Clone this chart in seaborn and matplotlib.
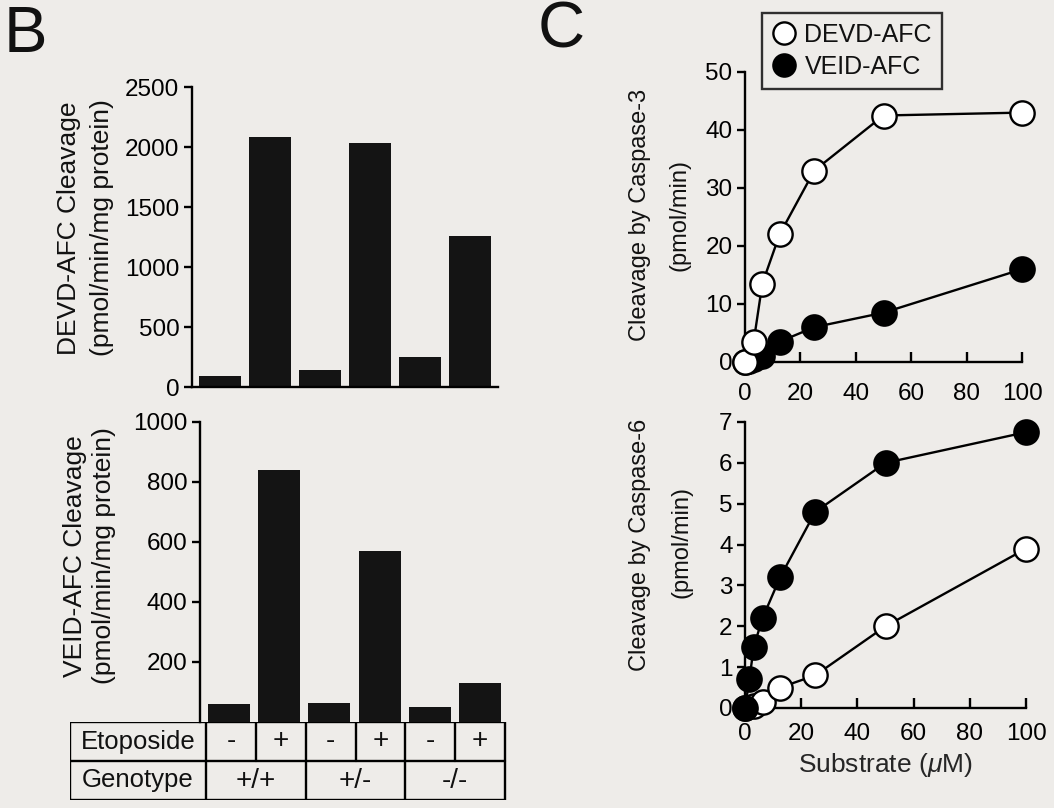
import matplotlib
matplotlib.use('Agg')
import matplotlib.pyplot as plt
from matplotlib.lines import Line2D
import seaborn as sns

# ---------------- data ----------------
conditions = ['+/+ -', '+/+ +', '+/- -', '+/- +', '-/- -', '-/- +']
etoposide = ['-', '+', '-', '+', '-', '+']
genotypes = ['+/+', '+/-', '-/-']
devd_cleavage = [90, 2080, 140, 2030, 250, 1260]
veid_cleavage = [60, 840, 65, 570, 50, 130]

substrate_devd = [0, 3.125, 6.25, 12.5, 25, 50, 100]
substrate_veid = [0, 1.5625, 3.125, 6.25, 12.5, 25, 50, 100]
casp3_devd = [0, 3.5, 13.5, 22, 33, 42.5, 43]
casp3_veid = [0, 0.2, 0.5, 1.0, 3.5, 6.0, 8.5, 16]
casp6_devd = [0, 0.05, 0.15, 0.5, 0.8, 2.0, 3.9]
casp6_veid = [0, 0.7, 1.5, 2.2, 3.2, 4.8, 6.0, 6.75]

# ---------------- style ----------------
sns.set_style('ticks')
BG = '#eeece9'
plt.rcParams['font.family'] = ['Liberation Sans', 'DejaVu Sans']
plt.rcParams['mathtext.fontset'] = 'custom'
plt.rcParams['mathtext.it'] = 'Liberation Sans:italic'
plt.rcParams['mathtext.rm'] = 'Liberation Sans'
plt.rcParams['axes.linewidth'] = 1.7
plt.rcParams['xtick.major.width'] = 1.7
plt.rcParams['ytick.major.width'] = 1.7
plt.rcParams['axes.edgecolor'] = 'black'
plt.rcParams['xtick.color'] = 'black'
plt.rcParams['ytick.color'] = 'black'
plt.rcParams['text.color'] = '#111111'

W, H = 1054, 808
fig = plt.figure(figsize=(W / 100, H / 100), dpi=100, facecolor=BG)


def box(x0, y0, x1, y1):
    """pixel box (top-left origin) -> figure fraction rect"""
    return [x0 / W, 1 - y1 / H, (x1 - x0) / W, (y1 - y0) / H]


BAR = '#141414'

# ---------------- panel B top ----------------
axb1 = fig.add_axes(box(192, 87, 498, 387))
axb1.set_facecolor('none')
sns.barplot(x=conditions, y=devd_cleavage, order=conditions, color=BAR,
            saturation=1, width=0.84, linewidth=0, ax=axb1)
axb1.set_xlim(-0.56, 5.56)
axb1.set_ylim(0, 2500)
axb1.set_yticks([0, 500, 1000, 1500, 2000, 2500])
axb1.set_xticks([])
axb1.set_xlabel('')
axb1.set_ylabel('')
axb1.tick_params(axis='y', labelsize=17.5, length=6, direction='out', pad=3)
sns.despine(ax=axb1)
fig.text(69 / W, 1 - 228 / H, 'DEVD-AFC Cleavage', rotation=90,
         ha='center', va='center', fontsize=19)
fig.text(102 / W, 1 - 228 / H, '(pmol/min/mg protein)', rotation=90,
         ha='center', va='center', fontsize=19)

# ---------------- panel B bottom ----------------
axb2 = fig.add_axes(box(200, 422, 507, 722))
axb2.set_facecolor('none')
sns.barplot(x=conditions, y=veid_cleavage, order=conditions, color=BAR,
            saturation=1, width=0.84, linewidth=0, ax=axb2)
axb2.set_xlim(-0.58, 5.54)
axb2.set_ylim(0, 1000)
axb2.set_yticks([200, 400, 600, 800, 1000])
axb2.set_xticks([])
axb2.set_xlabel('')
axb2.set_ylabel('')
axb2.tick_params(axis='y', labelsize=17.5, length=6, direction='out', pad=3)
sns.despine(ax=axb2, bottom=True)
fig.text(75 / W, 1 - 556 / H, 'VEID-AFC Cleavage', rotation=90,
         ha='center', va='center', fontsize=19)
fig.text(104 / W, 1 - 556 / H, '(pmol/min/mg protein)', rotation=90,
         ha='center', va='center', fontsize=19)

# table under the bars
axt = fig.add_axes(box(70, 722, 507, 800))
axt.set_facecolor('none')
left = -0.5 - (207 - 70) / 50.2
axt.set_xlim(left, 5.54)
axt.set_ylim(0, 2)
axt.axis('off')
lw = 1.7
n = len(conditions)
axt.plot([left, 5.5, 5.5, left, left], [0, 0, 2, 2, 0], color='black', lw=lw)
axt.plot([left, 5.5], [1, 1], color='black', lw=lw)
axt.plot([-0.5, -0.5], [0, 2], color='black', lw=lw)
for i in range(1, n):
    axt.plot([i - 0.5, i - 0.5], [1, 2], color='black', lw=lw)
for g in range(1, len(genotypes)):
    axt.plot([2 * g - 0.5, 2 * g - 0.5], [0, 1], color='black', lw=lw)
label_x = (left - 0.5) / 2
axt.text(label_x, 1.5, 'Etoposide', ha='center', va='center', fontsize=18.5)
axt.text(label_x, 0.5, 'Genotype', ha='center', va='center', fontsize=18.5)
for i, s in enumerate(etoposide):
    axt.text(i, 1.5, s, ha='center', va='center', fontsize=20)
for g, s in enumerate(genotypes):
    axt.text(2 * g + 0.5, 0.5, s, ha='center', va='center', fontsize=20)

# ---------------- panel C ----------------
MS = 17.5
line_kw = dict(color='black', linewidth=1.7, marker='o', markersize=MS,
               markeredgecolor='black', markeredgewidth=1.7)


def style_c(ax, ymax, yticks, pad):
    ax.set_facecolor('none')
    ax.set_xlim(0, 100)
    ax.set_ylim(0, ymax)
    ax.set_xticks([0, 20, 40, 60, 80, 100])
    ax.set_yticks(yticks)
    ax.set_xlabel('')
    ax.set_ylabel('')
    ax.tick_params(axis='x', direction='in', length=7, pad=pad, labelsize=17.5)
    ax.tick_params(axis='y', direction='out', length=6, pad=3, labelsize=17.5)
    sns.despine(ax=ax)


axc1 = fig.add_axes(box(745, 72, 1022, 362))
sns.lineplot(x=substrate_veid, y=casp3_veid, ax=axc1, markerfacecolor='black',
             clip_on=False, zorder=3, **line_kw)
sns.lineplot(x=substrate_devd, y=casp3_devd, ax=axc1, markerfacecolor='white',
             clip_on=False, zorder=4, **line_kw)
style_c(axc1, 50, [0, 10, 20, 30, 40, 50], 15)
fig.text(640 / W, 1 - 215 / H, 'Cleavage by Caspase-3', rotation=90,
         ha='center', va='center', fontsize=17)
fig.text(680 / W, 1 - 215 / H, '(pmol/min)', rotation=90,
         ha='center', va='center', fontsize=17)

axc2 = fig.add_axes(box(745, 422, 1026, 708))
sns.lineplot(x=substrate_devd, y=casp6_devd, ax=axc2, markerfacecolor='white',
             clip_on=False, zorder=3, **line_kw)
sns.lineplot(x=substrate_veid, y=casp6_veid, ax=axc2, markerfacecolor='black',
             clip_on=False, zorder=4, **line_kw)
style_c(axc2, 7, [0, 1, 2, 3, 4, 5, 6, 7], 11)
axc2.set_xlabel(r'Substrate ($\mu$M)', fontsize=19, labelpad=4)
fig.text(640 / W, 1 - 545 / H, 'Cleavage by Caspase-6', rotation=90,
         ha='center', va='center', fontsize=17)
fig.text(682 / W, 1 - 542 / H, '(pmol/min)', rotation=90,
         ha='center', va='center', fontsize=17)

# legend
handles = [Line2D([], [], linestyle='none', marker='o', markersize=16,
                  markerfacecolor='white', markeredgecolor='black', markeredgewidth=1.7),
           Line2D([], [], linestyle='none', marker='o', markersize=16,
                  markerfacecolor='black', markeredgecolor='black', markeredgewidth=1.7)]
leg = fig.legend(handles, ['DEVD-AFC', 'VEID-AFC'], loc='upper left',
                 bbox_to_anchor=(762 / W, 1 - 13 / H), borderaxespad=0,
                 fontsize=18, frameon=True, fancybox=False, handletextpad=0.3,
                 handlelength=1.0, borderpad=0.4, labelspacing=0.3)
leg.get_frame().set_edgecolor('black')
leg.get_frame().set_linewidth(1.7)
leg.get_frame().set_facecolor(BG)

# panel letters
fig.text(4 / W, 1 - 5 / H, 'B', ha='left', va='top', fontsize=47)
fig.text(538 / W, 1 - 1 / H, 'C', ha='left', va='top', fontsize=47)

fig.savefig('out.png', dpi=100, facecolor=BG)
